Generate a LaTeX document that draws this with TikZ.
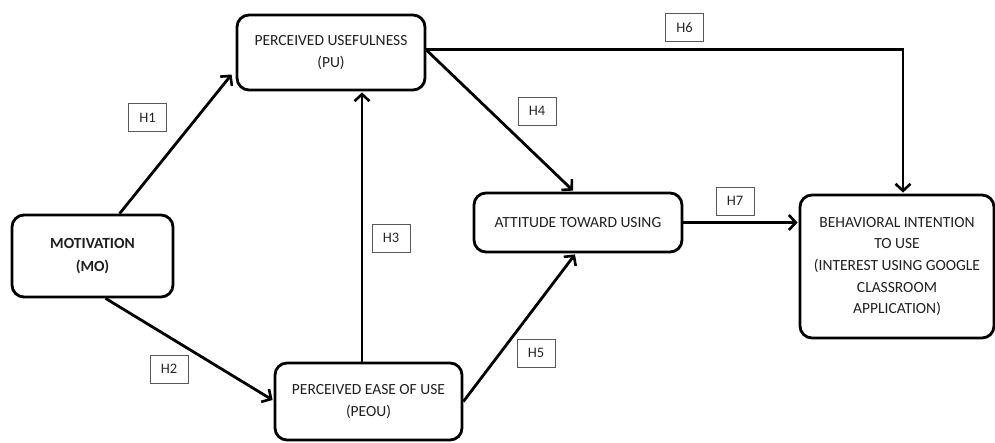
\documentclass[tikz,border=0pt]{standalone}
\usepackage{fontspec}
\setmainfont{Carlito}
\usetikzlibrary{arrows.meta,calc}
\begin{document}
\begin{tikzpicture}[x=1pt,y=-1pt,
  box/.style={draw=black,line width=2.8pt,rounded corners=12pt,align=center,
    inner sep=0pt,font=\fontsize{15.5}{22.5}\selectfont,text=black!88},
  hlab/.style={draw=black!65,line width=1pt,minimum width=38pt,minimum height=28pt,
    inner sep=0pt,font=\fontsize{14.5}{16}\selectfont,text=black!85},
  arr/.style={line width=2.8pt,-{Straight Barb[length=7pt,width=15pt,line width=2.6pt]}}]
\useasboundingbox (0,0) rectangle (995,442);
\node[box,minimum width=161pt,minimum height=82pt] (MO) at (92.5,256) {\textbf{MOTIVATION}\\\textbf{(MO)}};
\node[box,minimum width=188pt,minimum height=75pt] (PU) at (331,52.5) {PERCEIVED USEFULNESS\\(PU)};
\node[box,minimum width=187pt,minimum height=77pt] (PEOU) at (368.5,401.5) {PERCEIVED EASE OF USE\\(PEOU)};
\node[box,minimum width=208pt,minimum height=59pt] (ATU) at (578,222.5) {ATTITUDE TOWARD USING};
\node[box,minimum width=194pt,minimum height=143pt,font=\fontsize{15.5}{21.7}\selectfont] (BI) at (897,266.5) {BEHAVIORAL INTENTION\\TO USE\\(INTEREST USING GOOGLE\\CLASSROOM\\APPLICATION)};
\node[hlab] (H1) at (147.5,117.5) {H1};
\node[hlab] (H2) at (169,369) {H2};
\node[hlab] (H3) at (391,238) {H3};
\node[hlab] (H4) at (537,111) {H4};
\node[hlab] (H5) at (536,353) {H5};
\node[hlab] (H6) at (684.5,27.5) {H6};
\node[hlab] (H7) at (735,201) {H7};
\draw[arr] ([xshift=109pt]MO.north west) -- ([xshift=-4pt,yshift=-22pt]PU.west);
\draw[arr] ([xshift=95pt]MO.south west) -- ([xshift=-1pt,yshift=1.5pt]PEOU.west);
\draw[arr] ([xshift=-6.5pt]PEOU.north) -- ([xshift=-6.5pt,yshift=-1pt]PEOU.north |- PU.south);
\draw[arr] ([yshift=2.5pt]PU.east) -- ([xshift=-5pt,yshift=1pt]ATU.north);
\draw[arr] (PEOU.east) -- ([xshift=-3pt,yshift=-1pt]ATU.south);
\draw[arr] ([yshift=3pt]PU.east) -| ([xshift=6pt,yshift=1pt]BI.north);
\draw[arr] (ATU.east) -- ([xshift=-1pt]ATU.east -| BI.west);
\end{tikzpicture}
\end{document}
